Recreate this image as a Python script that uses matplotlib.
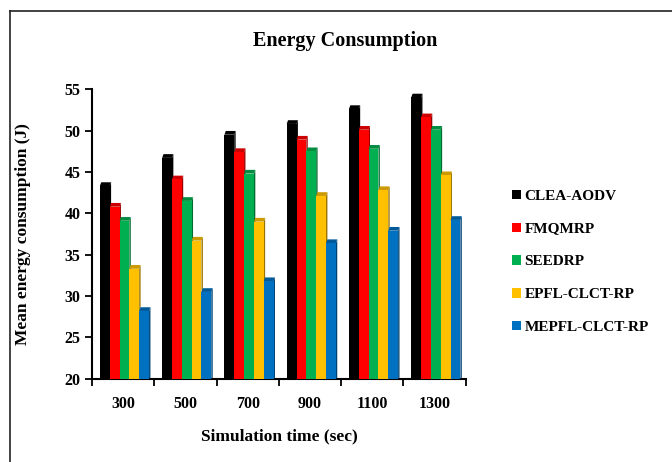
import numpy as np
import matplotlib
matplotlib.use("Agg")
import matplotlib.pyplot as plt
from matplotlib.patches import Polygon, Patch
from matplotlib.lines import Line2D
from matplotlib.colors import to_rgb

times = ["300", "500", "700", "900", "1100", "1300"]
series = ["CLEA-AODV", "FMQMRP", "SEEDRP", "EPFL-CLCT-RP", "MEPFL-CLCT-RP"]
clea = [43.3, 46.7, 49.5, 50.8, 52.6, 54.0]
fmqmrp = [40.8, 44.1, 47.4, 48.9, 50.1, 51.6]
seedrp = [39.1, 41.5, 44.8, 47.5, 47.8, 50.1]
epfl = [33.3, 36.7, 39.0, 42.1, 42.8, 44.6]
mepfl = [28.2, 30.5, 31.8, 36.4, 37.9, 39.2]
values = [clea, fmqmrp, seedrp, epfl, mepfl]
colors = ["#000000", "#FF0000", "#00B050", "#FFC000", "#0070C0"]

plt.rcParams['font.family'] = ['Liberation Serif', 'DejaVu Serif']
plt.rcParams['font.weight'] = 'bold'

fig = plt.figure(figsize=(6.72, 4.62), dpi=100)
ax = fig.add_axes([0.137, 0.180, 0.556, 0.627])

x = np.arange(len(times))
w = 0.158
dx, dy = 0.045, 0.45


def darker(c, f=0.6):
    r, g, b = to_rgb(c)
    return (r * f, g * f, b * f)


for i, (vals, col) in enumerate(zip(values, colors)):
    xs = x - 2.5 * w + i * w + 0.02
    for xi, v in zip(xs, vals):
        side = Polygon([(xi + w, 20), (xi + w + dx * 0.5, 20 + dy * 0.3),
                        (xi + w + dx * 0.5, v + dy), (xi + w, v)],
                       closed=True, facecolor=darker(col), edgecolor='none', zorder=2 + i)
        top = Polygon([(xi, v), (xi + dx * 0.5, v + dy), (xi + w + dx * 0.5, v + dy), (xi + w, v)],
                      closed=True, facecolor=darker(col, 0.8), edgecolor='none', zorder=2 + i)
        ax.add_patch(side)
        ax.add_patch(top)
    ax.bar(xs, [v - 20 for v in vals], bottom=20, width=w, align='edge',
           color=col, zorder=2.5 + i)

ax.set_xlim(-0.5, len(times) - 0.5)
ax.set_ylim(20, 55)
ax.set_yticks(range(20, 56, 5))
ax.set_xticks(x)
ax.set_xticklabels(times)
ax.set_xticks(np.arange(-0.5, len(times), 1.0), minor=True)
ax.tick_params(axis='x', which='major', length=0, pad=12, labelsize=11.5)
ax.tick_params(axis='x', which='minor', length=5, width=1.3, direction='out')
ax.tick_params(axis='y', length=5, width=1.3, direction='out', labelsize=11.5)
for s in ['top', 'right']:
    ax.spines[s].set_visible(False)
for s in ['left', 'bottom']:
    ax.spines[s].set_linewidth(1.5)

ax.set_xlabel('Simulation time (sec)', fontsize=12.5, fontweight='bold', labelpad=12)
ax.set_ylabel('Mean energy consumption (J)', fontsize=12.5, fontweight='bold', labelpad=24)
fig.text(0.513, 0.912, 'Energy Consumption', ha='center', va='center',
         fontsize=14.5, fontweight='bold')

handles = [Patch(facecolor=c, edgecolor='none') for c in colors]
fig.legend(handles, series, loc='center left', bbox_to_anchor=(0.742, 0.433),
           frameon=False, handlelength=0.55, handleheight=0.55,
           handletextpad=0.25, labelspacing=1.3, prop={'weight': 'bold', 'size': 11})

fig.add_artist(Line2D([10 / 672, 1.0], [1 - 11 / 462, 1 - 11 / 462],
                      transform=fig.transFigure, color='#222222', lw=1.2))
fig.add_artist(Line2D([10 / 672, 10 / 672], [0, 1 - 11 / 462],
                      transform=fig.transFigure, color='#222222', lw=1.2))

fig.savefig('out.png', dpi=100)
